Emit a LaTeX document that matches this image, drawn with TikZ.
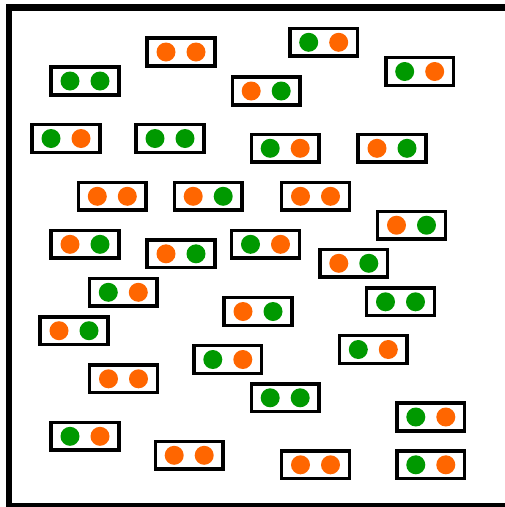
\documentclass[tikz,border=0pt]{standalone}
\definecolor{dotorange}{RGB}{255,102,0}
\definecolor{dotgreen}{RGB}{0,153,0}
\tikzset{
  pbox/.style={draw=black, line width=3.4pt, rectangle, minimum width=67.7pt, minimum height=27.7pt, inner sep=0pt, fill=white},
  dot/.style={circle, minimum size=19pt, inner sep=0pt, draw=none},
  frame/.style={draw=black, line width=6.8pt}
}
\newcommand\pairbox[5]{%
  \node[pbox] (#1) at (#2,#3) {};
  \node[dot, fill=#4] (#1l) at ([xshift=-15pt]#1.center) {};
  \node[dot, fill=#5] (#1r) at ([xshift=15pt]#1.center) {};
}
\begin{document}
\begin{tikzpicture}[x=1pt,y=-1pt]
\useasboundingbox (0,0) rectangle (505,507);
\fill[white] (0,0) rectangle (505,507);
\draw[frame] (9,7.5) rectangle (508.6,506.5);
\pairbox{b1}{181}{52}{dotorange}{dotorange}
\pairbox{b2}{323.7}{42.3}{dotgreen}{dotorange}
\pairbox{b3}{85}{81}{dotgreen}{dotgreen}
\pairbox{b4}{266.2}{91}{dotorange}{dotgreen}
\pairbox{b5}{419.7}{71.5}{dotgreen}{dotorange}
\pairbox{b6}{66}{138.5}{dotgreen}{dotorange}
\pairbox{b7}{170}{138.5}{dotgreen}{dotgreen}
\pairbox{b8}{285.2}{148.3}{dotgreen}{dotorange}
\pairbox{b9}{392}{148.3}{dotorange}{dotgreen}
\pairbox{b10}{112.3}{196.3}{dotorange}{dotorange}
\pairbox{b11}{208.2}{196.3}{dotorange}{dotgreen}
\pairbox{b12}{315.5}{196.3}{dotorange}{dotorange}
\pairbox{b13}{411.5}{225.2}{dotorange}{dotgreen}
\pairbox{b14}{85}{244.3}{dotorange}{dotgreen}
\pairbox{b15}{181}{253.8}{dotorange}{dotgreen}
\pairbox{b16}{265.5}{244.3}{dotgreen}{dotorange}
\pairbox{b17}{353.8}{263.3}{dotorange}{dotgreen}
\pairbox{b18}{123.3}{292.3}{dotgreen}{dotorange}
\pairbox{b19}{258}{311.5}{dotorange}{dotgreen}
\pairbox{b20}{400.5}{301.8}{dotgreen}{dotgreen}
\pairbox{b21}{74}{330.7}{dotorange}{dotgreen}
\pairbox{b22}{373.3}{349.5}{dotgreen}{dotorange}
\pairbox{b23}{227.8}{359.5}{dotgreen}{dotorange}
\pairbox{b24}{123.5}{378.8}{dotorange}{dotorange}
\pairbox{b25}{285.2}{397.8}{dotgreen}{dotgreen}
\pairbox{b26}{430.8}{417}{dotgreen}{dotorange}
\pairbox{b27}{85}{436.3}{dotgreen}{dotorange}
\pairbox{b28}{189.2}{455.3}{dotorange}{dotorange}
\pairbox{b29}{315.5}{464.8}{dotorange}{dotorange}
\pairbox{b30}{430.8}{464.8}{dotgreen}{dotorange}
\end{tikzpicture}
\end{document}
